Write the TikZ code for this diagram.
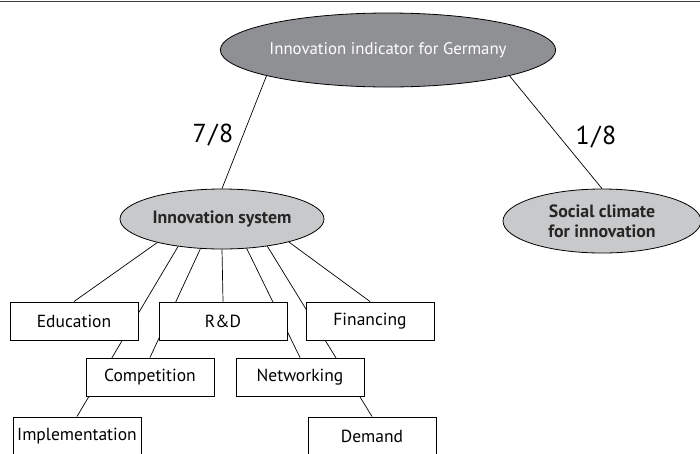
\documentclass[tikz,border=0pt]{standalone}
\usepackage{fontspec}
\setmainfont{PT Sans}
\usepackage{tikz}
\usetikzlibrary{shapes.geometric}
\usetikzlibrary{backgrounds}
\definecolor{darkgrey}{RGB}{143,144,148}
\definecolor{lightgrey}{RGB}{200,201,203}
\definecolor{rulegrey}{RGB}{60,60,60}

\begin{document}
\begin{tikzpicture}[x=1pt,y=-1pt,
    every node/.style={font=\fontsize{17.5}{20}\selectfont},
    headnode/.style={ellipse,draw,line width=0.8pt,fill=darkgrey,text=white,font=\fontsize{16.8}{20}\selectfont,minimum width=334pt,minimum height=74pt,inner sep=0pt},
    pillar/.style={ellipse,draw,line width=0.8pt,fill=lightgrey,text=black!85,font=\fontsize{17.8}{20}\selectfont\bfseries,align=center,inner sep=0pt},
    factor/.style={rectangle,draw,line width=1pt,fill=white,minimum width=128pt,minimum height=38pt,inner sep=0pt},
    share/.style={font=\fontsize{26}{30}\selectfont}]
  \useasboundingbox (0,0) rectangle (700,453);
  \clip (0,0) rectangle (700,453);
  \draw[rulegrey,line width=1.5pt] (0,1.5) -- (700,1.5);

  \node[headnode] (ind) at (388,50) {Innovation indicator for Germany};
  \node[pillar,minimum width=204pt,minimum height=60pt] (sys) at (222,219) {Innovation system};
  \node[pillar,minimum width=198pt,minimum height=64pt] (soc) at (602,221) {Social climate\\for innovation};

  \node[factor] (edu)  at (74,321)  {Education};
  \node[factor] (rd)   at (223,321) {R\&D};
  \node[factor] (fin)  at (370,321) {Financing};
  \node[factor] (comp) at (150,377) {Competition};
  \node[factor] (net)  at (300,377) {Networking};
  \node[factor] (impl) at (77,436)  {Implementation};
  \node[factor] (dem)  at (372,436) {Demand};

  \node[share] (w1) at (213,135) {7\kern1.5pt/\kern1.5pt8};
  \node[share] (w2) at (596,137) {1\kern1.5pt/\kern1.5pt8};

  \begin{scope}[on background layer]
    \path[draw,line width=0.7pt]
      (ind.192) edge (sys.north)
      (ind.348) edge (soc.north)
      (sys.200) edge (edu.north)
      (sys.212) edge (impl.north)
      (sys.234) edge (comp.north)
      (sys.270) edge (rd.north)
      (sys.310) edge (net.north)
      (sys.329) edge (dem.north)
      (sys.341) edge (fin.north);
  \end{scope}
\end{tikzpicture}
\end{document}
